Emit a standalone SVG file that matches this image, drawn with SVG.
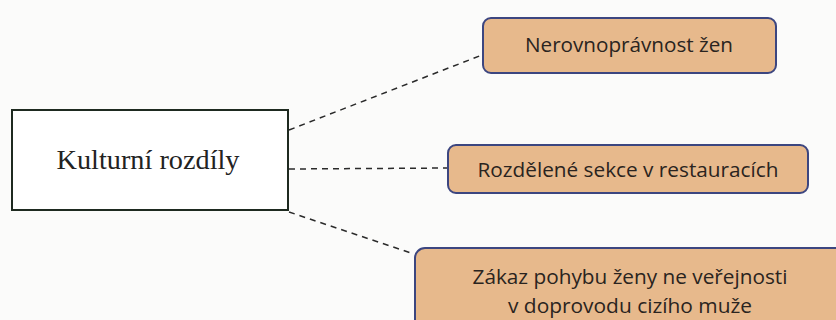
<svg xmlns="http://www.w3.org/2000/svg" width="836" height="320" viewBox="0 0 836 320">
<style>
.bg{fill:#fbfbfa}
.node rect.c{fill:#e7b98c;stroke:#3c4680;stroke-width:2}
.t{font-family:"Open Sans","Noto Sans",sans-serif;font-size:20px;fill:#2a2420;text-anchor:middle}
.conn line{stroke:#2a2a2a;stroke-width:1.5;stroke-dasharray:6,5;fill:none}
</style>
<rect class="bg" x="0" y="0" width="836" height="320"/>
<g id="main" class="node">
<rect x="12" y="110" width="276" height="100" fill="#ffffff" stroke="#1e2a20" stroke-width="2"/>
<text x="148" y="169" font-family="'Liberation Serif',serif" font-size="28" text-anchor="middle" fill="#222" textLength="183" lengthAdjust="spacingAndGlyphs">Kulturní rozdíly</text>
</g>
<g class="conn">
<line x1="289" y1="130" x2="482" y2="55"/>
<line x1="289" y1="169" x2="448" y2="168"/>
<line x1="289" y1="212" x2="414" y2="254"/>
</g>
<g id="n1" class="node">
<rect class="c" x="483" y="18" width="293" height="55" rx="8"/>
<text class="t" x="629" y="52" textLength="208" lengthAdjust="spacingAndGlyphs">Nerovnoprávnost žen</text>
</g>
<g id="n2" class="node">
<rect class="c" x="448" y="145" width="360" height="48" rx="8"/>
<text class="t" x="628" y="177" textLength="301" lengthAdjust="spacingAndGlyphs">Rozdělené sekce v restauracích</text>
</g>
<g id="n3" class="node">
<rect class="c" x="415" y="248" width="440" height="90" rx="10"/>
<text class="t" x="630" y="284" textLength="315" lengthAdjust="spacingAndGlyphs">Zákaz pohybu ženy ne veřejnosti</text>
<text class="t" x="630" y="313" textLength="244" lengthAdjust="spacingAndGlyphs">v doprovodu cizího muže</text>
</g>
</svg>
